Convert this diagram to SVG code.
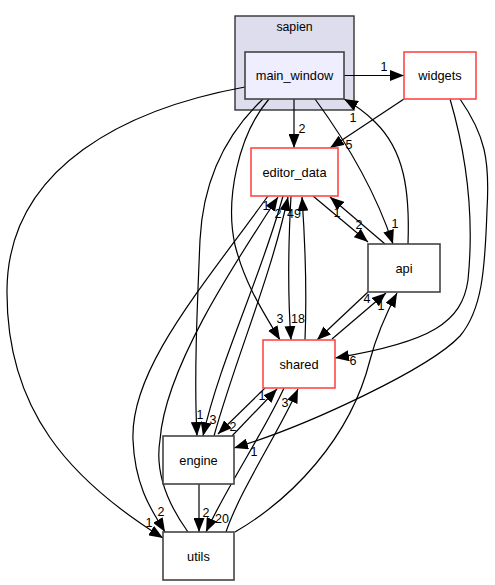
<svg xmlns="http://www.w3.org/2000/svg" width="495" height="585" viewBox="0 0 495 585">
<style>
text{font-family:"Liberation Sans",Arial,sans-serif;fill:#000}
.nl{font-size:12.8px;text-anchor:middle}
.el{font-size:12.5px;text-anchor:middle}
.cl{font-size:12.3px;text-anchor:middle}
.n{fill:#fff;stroke:#444;stroke-width:1.6}
.r{fill:#fff;stroke:#ff4848;stroke-width:1.6}
.e{fill:none;stroke:#000;stroke-width:1.2;marker-end:url(#ah)}
</style>
<defs>
<marker id="ah" markerUnits="userSpaceOnUse" markerWidth="14" markerHeight="11" viewBox="0 0 14 11" refX="14" refY="5.5" orient="auto"><path d="M0,0 L14,5.5 L0,11 z" fill="#000"/></marker>
</defs>
<rect width="495" height="585" fill="#fff"/>
<g id="cluster-sapien">
<rect x="235" y="16" width="119" height="94" fill="#ddddee" stroke="#333" stroke-width="1.4"/>
<text class="cl" x="294.5" y="31">sapien</text>
</g>
<g id="connectors">
<g id="e-mw-widgets"><path class="e" d="M344,75.5 L404,75.5"/><text class="el" x="384" y="71">1</text></g>
<g id="e-mw-ed"><path class="e" d="M294,99 L294,148"/><text class="el" x="302" y="133">2</text></g>
<g id="e-api-mw"><path class="e" d="M408,244 C410,190 404,150 375,122 C365,112 355,105 344,99"/><text class="el" x="353" y="122">1</text></g>
<g id="e-widgets-ed"><path class="e" d="M404,99 L330,148"/><text class="el" x="349" y="149">5</text></g>
<g id="e-mw-api"><path class="e" d="M315,99 C345,140 375,190 393,244"/><text class="el" x="395" y="228">1</text></g>
<g id="e-ed-api"><path class="e" d="M313,196 L368,242"/><text class="el" x="359" y="229">2</text></g>
<g id="e-api-ed"><path class="e" d="M385,244 L330,197"/><text class="el" x="337" y="217">1</text></g>
<g id="e-mw-utils"><path class="e" d="M245,87 C130,108 8,165 7,290 C6,410 70,480 163,538"/><text class="el" x="149" y="527">1</text></g>
<g id="e-mw-engine"><path class="e" d="M263,99 C225,135 203,180 200,240 C197,310 194,380 197,436"/><text class="el" x="200" y="419">1</text></g>
<g id="e-mw-shared"><path class="e" d="M269,99 C238,135 225,200 235,245 C245,285 265,315 280,340"/><text class="el" x="280" y="323">3</text></g>
<g id="e-widgets-shared"><path class="e" d="M450,99 C465,150 475,210 468,280 C462,322 432,342 335,358"/><text class="el" x="353" y="365">6</text></g>
<g id="e-widgets-engine"><path class="e" d="M460,99 C485,135 490,160 487,210 C485,270 482,310 460,336 C430,368 310,425 234,448"/><text class="el" x="254" y="456">1</text></g>
<g id="e-ed-utils"><path class="e" d="M268,196 C200,290 130,370 133,440 C135,490 155,515 165,532"/><text class="el" x="161" y="516">2</text></g>
<g id="e-utils-ed"><path class="e" d="M188,532 C165,500 155,470 160,440 C165,370 230,270 278,197"/><text class="el" x="266" y="210">1</text></g>
<g id="e-ed-engine"><path class="e" d="M283,196 C260,280 220,360 203,436"/><text class="el" x="213" y="424">3</text></g>
<g id="e-engine-ed"><path class="e" d="M214,436 C235,360 270,280 288,197"/><text class="el" x="278" y="218">2</text></g>
<g id="e-ed-shared"><path class="e" d="M291,196 C288,250 288,300 291,340"/><text class="el" x="298" y="323">18</text></g>
<g id="e-shared-ed"><path class="e" d="M305,340 C307,290 305,240 302,197"/><text class="el" x="294" y="218">49</text></g>
<g id="e-api-shared"><path class="e" d="M368,292 L317,340"/></g>
<g id="e-shared-api"><path class="e" d="M332,339 L386,293"/><text class="el" x="367" y="303">4</text></g>
<g id="e-utils-api"><path class="e" d="M235,532 C290,500 350,440 370,360 C378,330 388,310 397,293"/><text class="el" x="381" y="310">1</text></g>
<g id="e-shared-engine"><path class="e" d="M265,388 L218,434"/><text class="el" x="233" y="431">2</text></g>
<g id="e-engine-shared"><path class="e" d="M232,436 L277,389"/><text class="el" x="262" y="400">1</text></g>
<g id="e-shared-utils"><path class="e" d="M284,388 C265,430 225,490 206,532"/><text class="el" x="222" y="523">20</text></g>
<g id="e-utils-shared"><path class="e" d="M226,532 C240,490 280,430 298,389"/><text class="el" x="285" y="407">3</text></g>
<g id="e-engine-utils"><path class="e" d="M199,484 L199,532"/><text class="el" x="206" y="517">2</text></g>
</g>
<g id="node-main_window"><rect x="245" y="52" width="99" height="47" fill="#eeeeff" stroke="#444" stroke-width="1.6"/><text class="nl" x="294.5" y="80">main_window</text></g>
<g id="node-widgets"><rect class="r" x="404" y="52" width="72" height="47"/><text class="nl" x="440" y="80">widgets</text></g>
<g id="node-editor_data"><rect class="r" x="251" y="148" width="87" height="48"/><text class="nl" x="294.5" y="176.5">editor_data</text></g>
<g id="node-api"><rect class="n" x="368" y="244" width="72" height="48"/><text class="nl" x="404" y="272.5">api</text></g>
<g id="node-shared"><rect class="r" x="263" y="340" width="72" height="48"/><text class="nl" x="299" y="368.5">shared</text></g>
<g id="node-engine"><rect class="n" x="163" y="436" width="71" height="48"/><text class="nl" x="198.5" y="464.5">engine</text></g>
<g id="node-utils"><rect class="n" x="163" y="532" width="71" height="48"/><text class="nl" x="198.5" y="560.5">utils</text></g>
</svg>
